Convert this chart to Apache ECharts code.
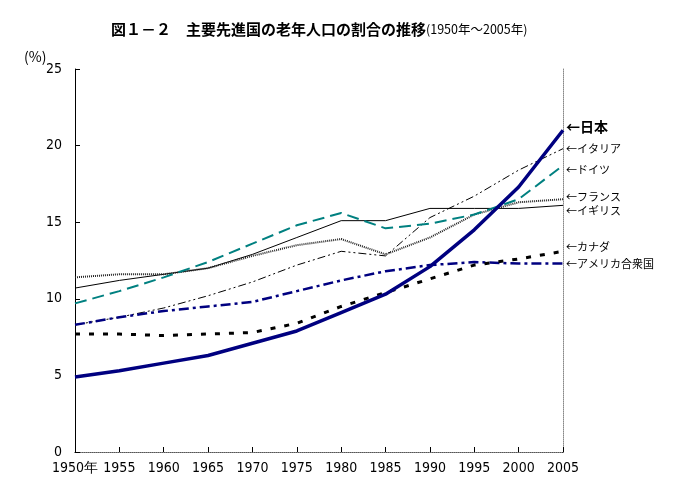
<!DOCTYPE html>
<html>
<head>
<meta charset="utf-8">
<script src="https://cdn.jsdelivr.net/npm/echarts@6/dist/echarts.min.js"></script>
<style>html,body{margin:0;padding:0;background:#fff;}#c{width:700px;height:490px;}</style>
</head>
<body>
<div id="c"></div>
<script>
const years = [1950,1955,1960,1965,1970,1975,1980,1985,1990,1995,2000,2005];
const japan   = [4.9, 5.3, 5.8, 6.3, 7.1, 7.9, 9.1, 10.3, 12.1, 14.5, 17.3, 21.0];
const italy   = [8.3, 8.8, 9.4, 10.2, 11.1, 12.2, 13.1, 12.8, 15.3, 16.7, 18.4, 19.8];
const germany = [9.7, 10.5, 11.4, 12.4, 13.6, 14.8, 15.6, 14.6, 14.9, 15.5, 16.5, 18.7];
const france  = [11.4, 11.6, 11.6, 12.0, 12.8, 13.5, 13.9, 12.9, 14.0, 15.5, 16.3, 16.5];
const uk      = [10.7, 11.2, 11.6, 12.0, 12.9, 14.0, 15.1, 15.1, 15.9, 15.9, 15.9, 16.1];
const canada  = [7.7, 7.7, 7.6, 7.7, 7.8, 8.4, 9.5, 10.4, 11.3, 12.2, 12.6, 13.1];
const usa     = [8.3, 8.8, 9.2, 9.5, 9.8, 10.5, 11.2, 11.8, 12.2, 12.4, 12.3, 12.3];
const labels = {japan:'←日本', italy:'←イタリア', germany:'←ドイツ', france:'←フランス', uk:'←イギリス', canada:'←カナダ', usa:'←アメリカ合衆国'};
const titleMain = '図１－２　主要先進国の老年人口の割合の推移';
const titleSub = '(1950年～2005年)';

const pairs = arr => years.map((y,i)=>[y, arr[i]]);
const numFont = 'Liberation Sans Narrow, DejaVu Sans Condensed, Arial Narrow, Liberation Sans, sans-serif';
const jpFont = 'Noto Sans CJK JP, sans-serif';

function mk(name, arr, color, width, type, dy, bold) {
  return {
    type: 'line', name: name, data: pairs(arr), symbol: 'none',
    lineStyle: {color: color, width: width, type: type},
    endLabel: {
      show: true, formatter: labels[name], distance: 3, offset: [0, dy],
      color: '#000', fontFamily: jpFont,
      fontSize: bold ? 14 : 11, fontWeight: bold ? 'bold' : 'normal'
    },
    animation: false, silent: true
  };
}

const chart = echarts.init(document.getElementById('c'), null, {renderer: 'canvas'});
chart.setOption({
  backgroundColor: '#fff',
  animation: false,
  title: {
    text: '{a|' + titleMain + '}{b|' + titleSub + '}',
    left: 106, top: 17,
    textStyle: {
      fontWeight: 'normal',
      rich: {
        a: {fontFamily: jpFont, fontSize: 15, fontWeight: 'bold', color: '#000'},
        b: {fontFamily: jpFont, fontSize: 12.5, fontWeight: 'normal', color: '#000'}
      }
    }
  },
  graphic: [{
    type: 'text', left: 24, top: 50,
    style: {text: '(%)', fontFamily: jpFont, fontSize: 14, fill: '#000'}
  }],
  grid: {left: 75, top: 69, width: 488, height: 383, containLabel: false},
  xAxis: [{
    type: 'value', min: 1950, max: 2005, interval: 5,
    axisLine: {show: true, lineStyle: {color: '#000', width: 1}},
    axisTick: {show: true, inside: true, length: 5, lineStyle: {color: '#000'}},
    axisLabel: {
      margin: 9, color: '#000', fontFamily: numFont, fontSize: 14,
      formatter: v => v === 1950 ? '1950年' : String(v)
    },
    splitLine: {show: false}
  }, {
    type: 'value', position: 'top', min: 1950, max: 2005,
    axisLine: {show: true, lineStyle: {color: '#888', width: 1, type: 'dotted'}},
    axisTick: {show: false}, axisLabel: {show: false}, splitLine: {show: false}
  }],
  yAxis: [{
    type: 'value', min: 0, max: 25, interval: 5,
    axisLine: {show: true, lineStyle: {color: '#000', width: 1}},
    axisTick: {show: true, inside: true, length: 5, lineStyle: {color: '#000'}},
    axisLabel: {margin: 13, color: '#000', fontFamily: numFont, fontSize: 14},
    splitLine: {show: false}
  }, {
    type: 'value', position: 'right', min: 0, max: 25,
    axisLine: {show: true, lineStyle: {color: '#888', width: 1, type: 'dotted'}},
    axisTick: {show: false}, axisLabel: {show: false}, splitLine: {show: false}
  }],
  series: [
    mk('uk', uk, '#000', 1, 'solid', 5),
    mk('france', france, '#222', 2, [1,1], -2),
    mk('italy', italy, '#000', 1, [8,3,2,3,2,3], 0),
    mk('germany', germany, '#008080', 2, [12,6], 4),
    mk('usa', usa, '#000080', 2.5, [10,4,3,4], 0),
    mk('canada', canada, '#000', 3, [5,9], -4),
    mk('japan', japan, '#000080', 3.5, 'solid', -4, true)
  ]
});
</script>
</body>
</html>
